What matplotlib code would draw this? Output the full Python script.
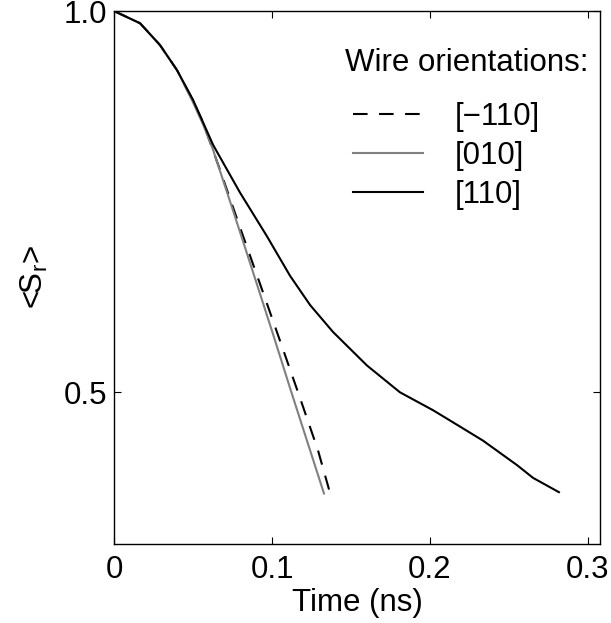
import matplotlib
matplotlib.use("Agg")
import matplotlib.pyplot as plt
from matplotlib.ticker import FixedLocator, NullLocator, FixedFormatter

plt.rcParams['font.family'] = ['Liberation Sans', 'DejaVu Sans']
plt.rcParams['mathtext.fontset'] = 'custom'
plt.rcParams['mathtext.rm'] = 'Liberation Sans'
plt.rcParams['mathtext.it'] = 'Liberation Sans'

# [110] wire
t_110 = [0, 0.0165, 0.0291, 0.0399, 0.0500, 0.0627, 0.0797, 0.0968, 0.1114, 0.1241,
         0.1386, 0.1601, 0.1810, 0.2019, 0.2127, 0.2335, 0.2551, 0.2652, 0.2816]
s_110 = [1.000, 0.978, 0.940, 0.898, 0.851, 0.784, 0.719, 0.664, 0.618, 0.586,
         0.558, 0.525, 0.500, 0.484, 0.475, 0.458, 0.438, 0.428, 0.417]

# [010] wire
t_010 = [0, 0.0165, 0.0291, 0.0399, 0.0500, 0.0563, 0.0627, 0.0753, 0.0880, 0.1006,
         0.1114, 0.1209, 0.1329]
s_010 = [1.000, 0.978, 0.940, 0.898, 0.847, 0.814, 0.777, 0.696, 0.622, 0.556,
         0.504, 0.463, 0.416]

# [-110] wire
t_m110 = [0, 0.0165, 0.0291, 0.0399, 0.0500, 0.0563, 0.0671, 0.0797, 0.0924, 0.1051,
          0.1177, 0.1291, 0.1361]
s_m110 = [1.000, 0.978, 0.940, 0.898, 0.849, 0.817, 0.749, 0.675, 0.609, 0.549,
          0.495, 0.450, 0.419]

x_ticks = [0, 0.1, 0.2, 0.3]
x_ticklabels = ['0', '0.1', '0.2', '0.3']
y_ticks = [0.5, 1.0]
y_ticklabels = ['0.5', '1.0']

FS = 22.5

fig = plt.figure(figsize=(6.11, 6.23), dpi=100)
ax = fig.add_axes([0.1866, 0.1268, 0.7954, 0.8555])

ax.plot(t_m110, s_m110, color='black', lw=1.5, linestyle=(0, (7, 5.5)), label='[\u2212110]')
ax.plot(t_010, s_010, color='#808080', lw=1.5, label='[010]')
ax.plot(t_110, s_110, color='black', lw=1.5, label='[110]')

ax.set_yscale('log')
ax.set_xlim(0, 0.3076)
ax.set_ylim(0.3795, 1.0)

ax.xaxis.set_major_locator(FixedLocator(x_ticks))
ax.xaxis.set_major_formatter(FixedFormatter(x_ticklabels))
ax.yaxis.set_major_locator(FixedLocator(y_ticks))
ax.yaxis.set_major_formatter(FixedFormatter(y_ticklabels))
ax.yaxis.set_minor_locator(NullLocator())

ax.tick_params(direction='in', length=5, width=0.8, top=True, right=True,
               labelsize=FS)
ax.tick_params(axis='x', pad=8)
ax.tick_params(axis='y', pad=5)
for sp in ax.spines.values():
    sp.set_linewidth(1.0)

ax.set_xlabel('Time (ns)', fontsize=FS, labelpad=2)
ax.set_ylabel('<S$_\\mathrm{r}$>', fontsize=FS, labelpad=10)

# legend title drawn as plain text, entries as a frameless legend below it
ax.text(0.475, 0.9024, 'Wire orientations:', transform=ax.transAxes,
        fontsize=FS, ha='left', va='center')
leg = ax.legend(loc='upper left', frameon=False, fontsize=FS,
                handlelength=2.24, handletextpad=1.0, labelspacing=0.29,
                borderpad=0, borderaxespad=0, bbox_to_anchor=(0.4918, 0.830))

fig.savefig('out.png', dpi=100)
